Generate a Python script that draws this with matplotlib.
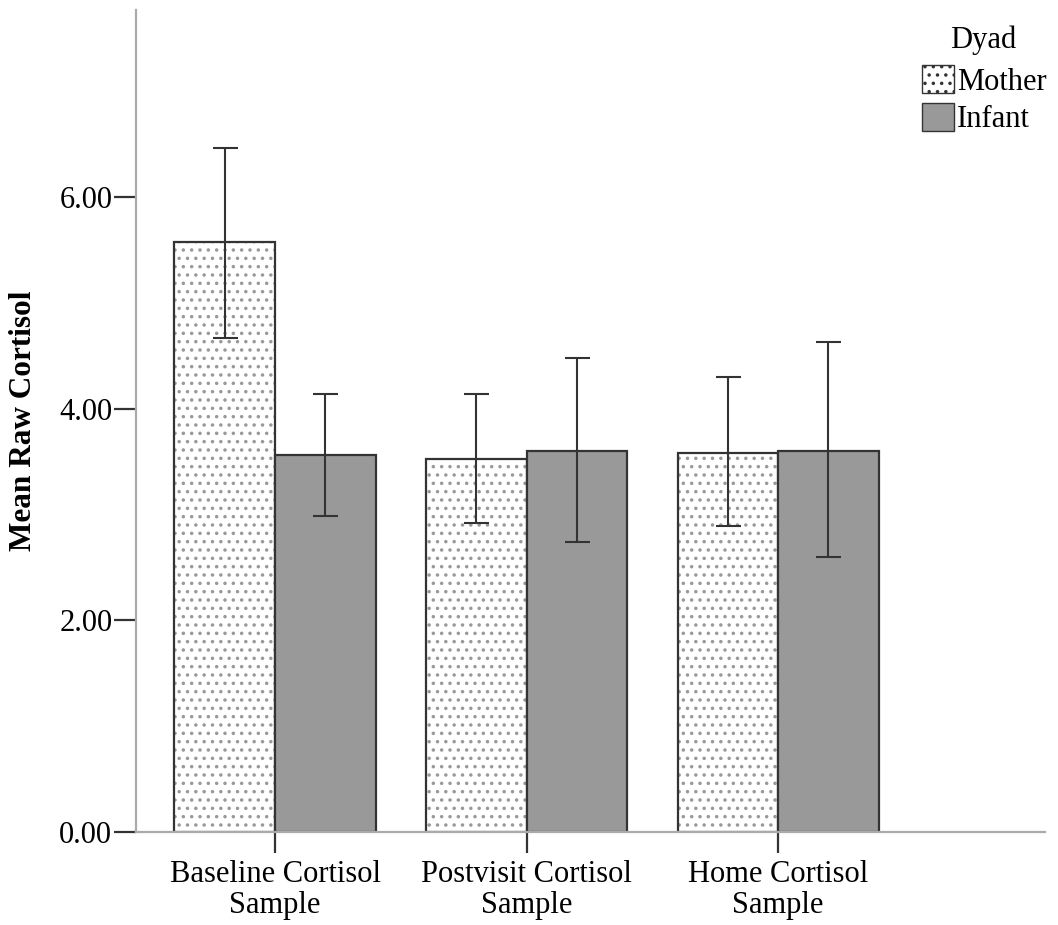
import matplotlib
matplotlib.use('Agg')
import matplotlib.pyplot as plt
import numpy as np
from matplotlib.patches import Patch

categories = ['Baseline Cortisol\nSample', 'Postvisit Cortisol\nSample', 'Home Cortisol\nSample']
mother_mean = [5.58, 3.53, 3.58]
mother_hi = [6.47, 4.14, 4.30]
mother_lo = [4.67, 2.92, 2.89]
infant_mean = [3.56, 3.60, 3.60]
infant_hi = [4.14, 4.48, 4.63]
infant_lo = [2.99, 2.74, 2.60]
yticks = [0, 2, 4, 6]

plt.rcParams['font.family'] = ['Liberation Serif', 'DejaVu Serif']
plt.rcParams['hatch.linewidth'] = 1.3

fig = plt.figure(figsize=(10.58, 9.25), dpi=100)
ax = fig.add_axes([0.1285, 0.1005, 0.859, 0.8886])

x = np.arange(len(categories))
w = 0.4
m_err = [np.subtract(mother_mean, mother_lo), np.subtract(mother_hi, mother_mean)]
i_err = [np.subtract(infant_mean, infant_lo), np.subtract(infant_hi, infant_mean)]

# dotted fill for mother, then outline on top
ax.bar(x - w / 2, mother_mean, w, color='white', hatch='..', edgecolor='#999999', linewidth=0)
ax.bar(x - w / 2, mother_mean, w, fill=False, edgecolor='#333333', linewidth=1.6)
ax.bar(x + w / 2, infant_mean, w, color='#999999', edgecolor='#333333', linewidth=1.6)

ax.errorbar(x - w / 2, mother_mean, yerr=m_err, fmt='none', ecolor='#333333', elinewidth=1.5, capsize=9, capthick=1.5)
ax.errorbar(x + w / 2, infant_mean, yerr=i_err, fmt='none', ecolor='#333333', elinewidth=1.5, capsize=9, capthick=1.5)

ax.set_xlim(-0.553, 3.06)
ax.set_ylim(0, 7.77)
ax.set_xticks(x)
ax.set_xticklabels(categories, fontsize=22, linespacing=1.12)
ax.set_yticks(yticks)
ax.set_yticklabels([f'{v:.2f}' for v in yticks], fontsize=22)
ax.tick_params(axis='x', length=15, width=1.6, color='#333333', pad=5)
ax.tick_params(axis='y', length=16, width=1.6, color='#333333', pad=1)
ax.set_ylabel('Mean Raw Cortisol', fontsize=22.5, fontweight='bold', labelpad=15)

for s in ['top', 'right']:
    ax.spines[s].set_visible(False)
for s in ['left', 'bottom']:
    ax.spines[s].set_color('#aaaaaa')
    ax.spines[s].set_linewidth(1.6)

handles = [Patch(facecolor='white', edgecolor='#333333', hatch='..', label='Mother'),
           Patch(facecolor='#999999', edgecolor='#333333', label='Infant')]
ax.legend(handles=handles, loc='upper right', bbox_to_anchor=(1.005, 0.937),
          frameon=False, fontsize=22, handlelength=1.05, handleheight=1.05,
          handletextpad=0.08, labelspacing=0.2, borderaxespad=0, borderpad=0.1)
ax.text(0.932, 0.963, 'Dyad', transform=ax.transAxes, fontsize=22, ha='center', va='center')

fig.savefig('out.png', dpi=100)
